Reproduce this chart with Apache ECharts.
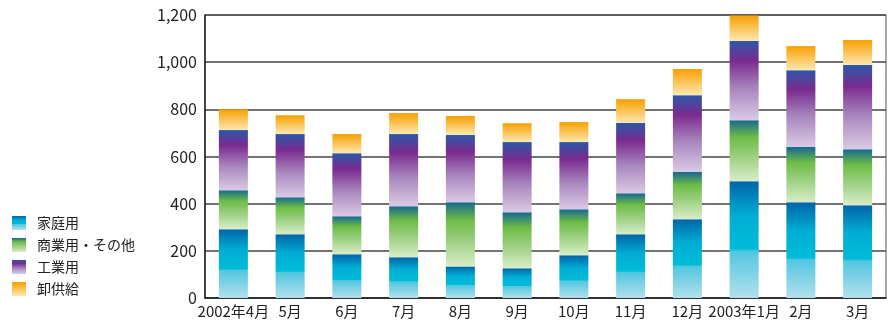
<!DOCTYPE html>
<html>
<head>
<meta charset="utf-8">
<script src="https://cdn.jsdelivr.net/npm/echarts@6/dist/echarts.min.js"></script>
<style>
  html, body { margin: 0; padding: 0; background: #fff; }
  #chart { width: 888px; height: 320px; }
</style>
</head>
<body>
<div id="chart"></div>
<script>
// months (April 2002 - March 2003)
const months = ['2002年4月', '5月', '6月', '7月', '8月', '9月', '10月', '11月', '12月', '2003年1月', '2月', '3月']
const household = [292, 270, 185, 173, 134, 126, 181, 270, 334, 495, 406, 393]
const commercial = [165, 157, 162, 216, 272, 238, 195, 174, 200, 259, 234, 238]
const industrial = [255, 268, 267, 306, 285, 297, 285, 298, 326, 336, 326, 357]
const wholesale = [88, 80, 81, 89, 81, 80, 85, 101, 111, 108, 102, 106]
const yTicks = [0, 200, 400, 600, 800, 1000, 1200]

const FONT = "'Liberation Sans Narrow', 'Noto Sans CJK JP', sans-serif"

const grad = (stops) => new echarts.graphic.LinearGradient(0, 0, 0, 1,
  stops.map(s => ({ offset: s[0], color: s[1] })))

const blueGrad = grad([[0, '#0064a8'], [0.3, '#00aed4'], [0.58, '#00bcd8'], [0.6, '#52c6e0'], [1, '#b2e0ec']])
const greenGrad = grad([[0, '#17688f'], [0.28, '#6dbd45'], [0.55, '#95cc78'], [1, '#d9edc9']])
const purpleGrad = grad([[0, '#2b58a8'], [0.25, '#7a2a8f'], [0.6, '#a886bd'], [1, '#dacae5']])
const orangeGrad = grad([[0, '#f7a000'], [1, '#fee8b2']])

const bar = (name, data, color) => ({
  name: name,
  type: 'bar',
  stack: 'total',
  barWidth: 29,
  data: data,
  itemStyle: { color: color }
})

const myChart = echarts.init(document.getElementById('chart'))
const option = {
  animation: false,
  textStyle: { fontFamily: FONT },
  grid: {
    left: 205,
    right: 2,
    top: 15,
    bottom: 22,
    show: true,
    borderColor: '#555',
    borderWidth: 1
  },
  legend: {
    orient: 'vertical',
    left: 12,
    top: 216,
    padding: 0,
    icon: 'rect',
    itemWidth: 14,
    itemHeight: 14,
    itemGap: 8,
    textStyle: { fontFamily: FONT, fontSize: 14, lineHeight: 14, color: '#222', padding: [0, 0, 0, 6] },
    data: ['家庭用', '商業用・その他', '工業用', '卸供給']
  },
  xAxis: {
    type: 'category',
    data: months,
    axisLine: { lineStyle: { color: '#222', width: 1.5 } },
    axisTick: { show: false },
    axisLabel: { color: '#222', fontSize: 15, margin: 6, interval: 0 }
  },
  yAxis: {
    type: 'value',
    min: 0,
    max: 1200,
    interval: 200,
    axisLine: { show: true, lineStyle: { color: '#222', width: 1.5 } },
    axisTick: { show: false },
    axisLabel: {
      color: '#222',
      fontSize: 16,
      margin: 8,
      formatter: (v) => yTicks.includes(v) ? v.toLocaleString('en-US') : ''
    },
    splitLine: { lineStyle: { color: '#444', width: 1.5 } }
  },
  series: [
    bar('家庭用', household, blueGrad),
    bar('商業用・その他', commercial, greenGrad),
    bar('工業用', industrial, purpleGrad),
    bar('卸供給', wholesale, orangeGrad)
  ]
}
myChart.setOption(option)
</script>
</body>
</html>
